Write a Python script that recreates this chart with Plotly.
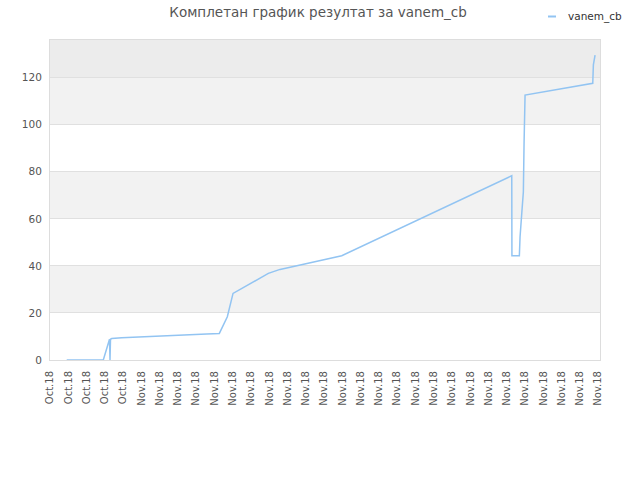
import plotly.graph_objects as go

tick_labels = ["Oct.18"] * 5 + ["Nov.18"] * 26

x_pos = [0.914, 2.917, 3.257, 3.284, 3.311, 3.377, 3.924, 5.107, 6.294, 7.482,
         8.577, 9.267, 9.705, 10.017, 11.948, 12.589, 15.966, 25.271, 25.28,
         25.687, 25.725, 25.818, 25.906, 25.944, 25.999, 29.704, 29.737, 29.830]
values = [0.0, 0.0, 8.8, 0.0, 8.8, 9.1, 9.5, 9.8, 10.2, 10.6,
          11.0, 11.3, 18.4, 28.3, 36.8, 38.5, 44.3, 78.3, 44.3,
          44.3, 52.4, 62.3, 71.5, 92.1, 112.6, 117.6, 125.4, 129.6]

band_edges = [(20, 40, "#f2f2f2"), (60, 80, "#f2f2f2"), (100, 120, "#f2f2f2"), (120, 136, "#ececec")]

series_name = "vanem_cb"
line_color = "#92c4f2"

fig = go.Figure()
fig.add_trace(go.Scatter(
    x=x_pos, y=values, mode="lines", name=series_name,
    line=dict(color=line_color, width=1.5),
    showlegend=False, hoverinfo="skip",
))

L, R, T, B = 50, 40, 40, 120
PW, PH = 640 - L - R, 480 - T - B

def px2paper_x(px):
    return (px - L) / PW

def py2paper_y(py):
    return (480 - B - py) / PH

shapes = []
for y0, y1, c in band_edges:
    shapes.append(dict(type="rect", xref="paper", yref="y", x0=0, x1=1, y0=y0, y1=y1,
                       fillcolor=c, line=dict(width=0), layer="below"))
# manual legend symbol
shapes.append(dict(type="line", xref="paper", yref="paper",
                   x0=px2paper_x(548), x1=px2paper_x(556),
                   y0=py2paper_y(16.5), y1=py2paper_y(16.5),
                   line=dict(color=line_color, width=2)))

fig.update_layout(
    width=640, height=480,
    margin=dict(l=L, r=R, t=T, b=B, autoexpand=False),
    paper_bgcolor="white", plot_bgcolor="white",
    font=dict(family="DejaVu Sans", size=10, color="#555555"),
    title=dict(text="Комплетан график резултат за vanem_cb", x=0.497, xanchor="center",
               xref="container", yref="container",
               y=0.975, yanchor="middle", font=dict(size=13.5, color="#555555")),
    shapes=shapes,
    annotations=[dict(text=series_name, xref="paper", yref="paper",
                      x=px2paper_x(566), y=py2paper_y(16), xanchor="left", yanchor="middle",
                      showarrow=False, font=dict(size=10.5, color="#333333"))],
    showlegend=False,
    hovermode=False,
    xaxis=dict(range=[0, 30.1], tickmode="array", tickvals=list(range(len(tick_labels))),
               ticktext=tick_labels, tickangle=-90, showgrid=False, zeroline=False,
               showline=True, linecolor="#dddddd", mirror=True, ticks="",
               ticklabelstandoff=6,
               tickfont=dict(size=10, color="#555555")),
    yaxis=dict(range=[0, 136], tickvals=[0, 20, 40, 60, 80, 100, 120], showgrid=True,
               gridcolor="#e0e0e0", zeroline=False, showline=True, linecolor="#dddddd",
               mirror=True, ticks="", ticklabelstandoff=5,
               tickfont=dict(size=10.5, color="#555555")),
)

fig.write_html("out.html", config={"displayModeBar": False},
               post_script="document.body.style.margin='0';")
